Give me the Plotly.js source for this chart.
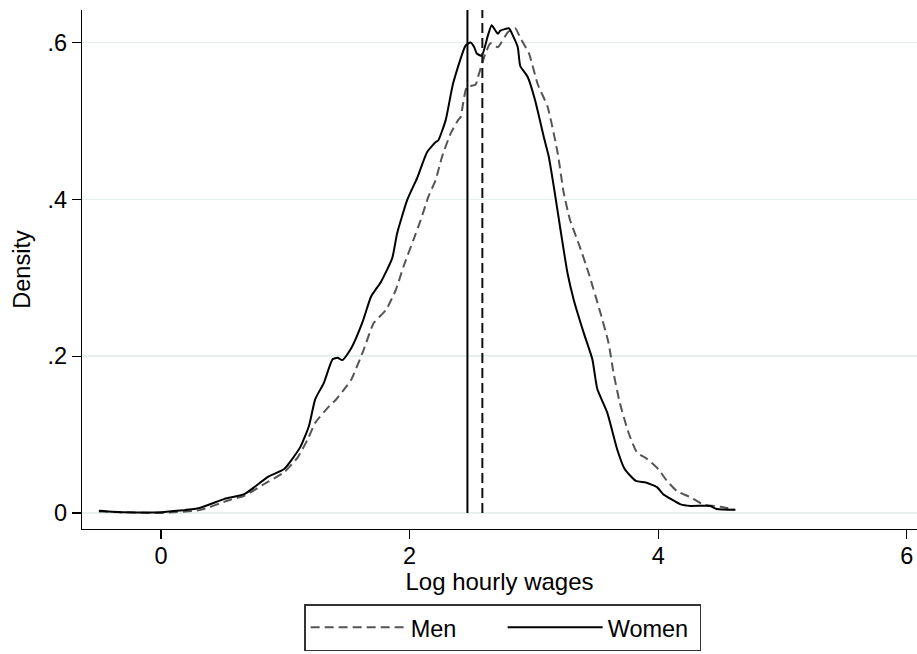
<!DOCTYPE html>
<html>
<head>
<meta charset="utf-8">
<script src="https://cdn.plot.ly/plotly-3.0.1.min.js"></script>
<style>html,body{margin:0;padding:0;background:#fff;}#chart{width:917px;height:654px;}</style>
</head>
<body>
<div id="chart"></div>
<script>
// Kernel density of log hourly wages
const womenX = [-0.50,-0.30,0.00,0.30,0.51,0.67,0.86,0.99,1.12,1.19,1.24,1.31,1.38,1.42,1.46,1.53,1.62,1.69,1.77,1.86,1.90,1.98,2.06,2.14,2.21,2.23,2.29,2.35,2.45,2.49,2.52,2.54,2.58,2.63,2.66,2.71,2.73,2.80,2.83,2.87,2.89,2.95,3.01,3.08,3.12,3.16,3.21,3.27,3.32,3.40,3.47,3.51,3.59,3.67,3.73,3.82,3.90,3.99,4.04,4.10,4.18,4.26,4.42,4.47,4.62];
const womenY = [0.003,0.001,0.001,0.006,0.018,0.024,0.046,0.056,0.084,0.111,0.145,0.166,0.196,0.198,0.195,0.210,0.243,0.276,0.295,0.325,0.357,0.399,0.427,0.460,0.473,0.475,0.501,0.548,0.596,0.600,0.594,0.586,0.583,0.609,0.622,0.611,0.615,0.618,0.609,0.594,0.570,0.556,0.526,0.479,0.454,0.416,0.365,0.306,0.272,0.230,0.196,0.158,0.128,0.081,0.056,0.041,0.039,0.033,0.024,0.018,0.011,0.009,0.009,0.005,0.004];
const menX = [-0.50,-0.30,0.00,0.32,0.54,0.67,0.83,0.99,1.10,1.18,1.24,1.34,1.41,1.47,1.53,1.63,1.71,1.81,1.89,1.95,2.03,2.09,2.15,2.21,2.26,2.33,2.39,2.41,2.46,2.53,2.55,2.61,2.65,2.71,2.79,2.85,2.89,2.96,3.03,3.11,3.19,3.24,3.29,3.37,3.44,3.53,3.60,3.64,3.69,3.76,3.83,3.91,4.00,4.07,4.15,4.26,4.36,4.50,4.62];
const menY = [0.002,0.001,0.000,0.004,0.016,0.022,0.037,0.052,0.071,0.094,0.115,0.134,0.145,0.157,0.170,0.208,0.242,0.259,0.285,0.314,0.348,0.374,0.403,0.425,0.454,0.484,0.501,0.505,0.543,0.546,0.556,0.586,0.599,0.594,0.613,0.618,0.606,0.586,0.547,0.518,0.460,0.408,0.374,0.339,0.306,0.258,0.217,0.179,0.141,0.103,0.077,0.069,0.056,0.041,0.028,0.020,0.011,0.008,0.004];
// Group means (vertical reference lines)
const meanMen = 2.585;
const meanWomen = 2.465;
const seriesNames = ["Men", "Women"];
const xTickVals = [0, 2, 4, 6];
const xTickText = ["0", "2", "4", "6"];
const yTickVals = [0, 0.2, 0.4, 0.6];
const yTickText = ["0", ".2", ".4", ".6"];

const yMin = -0.0204, yMax = 0.6414;
const font = "Liberation Sans, Arial, Helvetica, sans-serif";

const traces = [
  {x: menX, y: menY, type: "scatter", mode: "lines", name: seriesNames[0],
   line: {color: "#555555", width: 2, dash: "9px,5px", shape: "spline", smoothing: 0.5}},
  {x: womenX, y: womenY, type: "scatter", mode: "lines", name: seriesNames[1],
   line: {color: "#000000", width: 2, shape: "spline", smoothing: 0.5}},
  {x: [meanWomen, meanWomen], y: [0, yMax], type: "scatter", mode: "lines", showlegend: false,
   line: {color: "#000000", width: 2}},
  {x: [meanMen, meanMen], y: [0, yMax], type: "scatter", mode: "lines", showlegend: false,
   line: {color: "#111111", width: 2, dash: "10px,5px"}}
];

const layout = {
  width: 917, height: 654,
  margin: {l: 82, r: 0, t: 10, b: 125, autoexpand: false},
  paper_bgcolor: "#ffffff", plot_bgcolor: "#ffffff",
  font: {family: font, size: 23.5, color: "#000"},
  showlegend: true,
  legend: {orientation: "h", x: 0.504, xanchor: "center", y: -0.145, yanchor: "top",
           bordercolor: "#333", borderwidth: 1.3, itemwidth: 95,
           entrywidth: 87, entrywidthmode: "pixels",
           font: {family: font, size: 23.5, color: "#000"}, tracegroupgap: 0},
  xaxis: {range: [-0.636, 6.082], tickvals: xTickVals, ticktext: xTickText,
          showgrid: false, zeroline: false, showline: true, linecolor: "#000", linewidth: 1.3,
          ticks: "outside", ticklen: 9, tickwidth: 1.3, tickcolor: "#000", ticklabelstandoff: -4,
          automargin: false,
          title: {text: "Log hourly wages", font: {size: 24}, standoff: 3}},
  yaxis: {range: [yMin, yMax], tickvals: yTickVals, ticktext: yTickText,
          showgrid: true, gridcolor: "#e7efef", gridwidth: 1.5, zeroline: false,
          showline: true, linecolor: "#000", linewidth: 1.3,
          ticks: "outside", ticklen: 9, tickwidth: 1.3, tickcolor: "#000",
          automargin: false,
          title: {text: "Density", font: {size: 23.5}, standoff: 10}}
};

Plotly.newPlot("chart", traces, layout, {staticPlot: true, displayModeBar: false});
</script>
</body>
</html>
